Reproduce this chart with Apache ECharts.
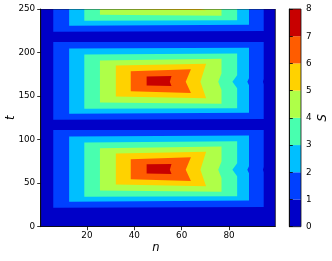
<!DOCTYPE html>
<html><head><meta charset="utf-8">
<script src="https://cdn.jsdelivr.net/npm/echarts@6/dist/echarts.min.js"></script>
<style>html,body{margin:0;padding:0;background:#fff}#c{width:332px;height:261px}</style>
</head><body><div id="c"></div>
<script>
// band colours (jet colormap), bands 0-1 ... 7-8
const bandColors = ['#0000c8','#0040ff','#00bfff','#48ffaf','#afff48','#ffd200','#ff5c00','#c80000'];
const levelBounds = [0,1,2,3,4,5,6,7,8];
const xTicks = [20,40,60,80];
const yTicks = [0,50,100,150,200,250];
const nRange = [0.5, 99.5];
const tRange = [0, 250];
// outlines of the filled contour regions S > 1 ... S > 7 for the first hump
const bandLeftN   = [5.8, 12.5, 18.9, 25.5, 32.2, 38.5, 45.2];
const bandRightN  = [94.6, 88.4, 83.4, 76.8, 70.3, 63.9, 55.7];
const bandNotchN  = [94.3, 87.7, 81.4, 75.4, 67.9, 61.7, 55.0];
const notchSpanT  = [3, 4, 7.5, 9.5, 99, 99, 99];
const bandBottomL = [21.8, 28.7, 34.5, 41.5, 48.5, 54.5, 61.2];
const bandBottomR = [22.6, 30.0, 35.0, 40.2, 46.5, 52.5, 60.5];
const bandTopL    = [111, 103.5, 96.8, 90, 84, 77.6, 71.6];
const bandTopR    = [111, 104.6, 98, 92, 86, 79.7, 72];
const notchT = 65.5;
// the pattern repeats along t
const humpShiftT = [0, 101, 202];

function clampT(p){ return [p[0], Math.min(tRange[1], Math.max(tRange[0], p[1]))]; }
function bandPolygon(k, s){
  const r = bandRightN[k], b = bandBottomR[k], tp = bandTopR[k];
  const pts = [[bandLeftN[k], bandBottomL[k]+s], [r, b+s]];
  const lo = Math.max(b, notchT - notchSpanT[k]);
  const hi = Math.min(tp, notchT + notchSpanT[k]);
  if (lo > b) pts.push([r, lo+s]);
  pts.push([bandNotchN[k], notchT+s]);
  if (hi < tp) pts.push([r, hi+s]);
  pts.push([r, tp+s]);
  pts.push([bandLeftN[k], bandTopL[k]+s]);
  return pts.map(clampT);
}
const shapes = [{level:0, pts:[[nRange[0],tRange[0]],[nRange[1],tRange[0]],[nRange[1],tRange[1]],[nRange[0],tRange[1]]]}];
for (let k=0;k<7;k++) for (const s of humpShiftT) shapes.push({level:k+1, pts:bandPolygon(k,s)});

const font = 'DejaVu Sans';
const chart = echarts.init(document.getElementById('c'), null, {renderer:'canvas'});
const axisCommon = {
  axisLine:{show:true, lineStyle:{color:'#000', width:0.8}},
  axisTick:{show:true, inside:false, length:3.5, lineStyle:{color:'#000', width:0.8}},
  splitLine:{show:false},
  nameMoveOverlap:false,
  z:10
};
chart.setOption({
  animation:false,
  backgroundColor:'#fff',
  grid:[{left:40.7, top:9, width:234.6, height:217.7, outerBoundsMode:'none', containLabel:false},
        {left:289.3, top:9, width:11.7, height:217.7, outerBoundsMode:'none', containLabel:false}],
  xAxis:[
    Object.assign({}, axisCommon, {type:'value', gridIndex:0, min:nRange[0], max:nRange[1],
      axisTick:Object.assign({}, axisCommon.axisTick, {customValues:xTicks}),
      axisLabel:{customValues:xTicks, fontSize:8.8, fontFamily:font, color:'#000', margin:5},
      name:'n', nameLocation:'middle', nameGap:15,
      nameTextStyle:{fontStyle:'italic', fontSize:11.5, fontFamily:font, color:'#000', padding:[0,4,0,0]}}),
    {type:'value', gridIndex:1, min:0, max:1, show:false}
  ],
  yAxis:[
    Object.assign({}, axisCommon, {type:'value', gridIndex:0, min:tRange[0], max:tRange[1], interval:50,
      axisLabel:{fontSize:8.8, fontFamily:font, color:'#000', margin:5.5},
      name:'t', nameLocation:'middle', nameGap:24,
      nameTextStyle:{fontStyle:'italic', fontSize:11.5, fontFamily:font, color:'#000'}}),
    Object.assign({}, axisCommon, {type:'value', gridIndex:1, position:'right', min:levelBounds[0], max:levelBounds[8], interval:1,
      axisLabel:{fontSize:8.8, fontFamily:font, color:'#000', margin:5},
      name:'S', nameLocation:'middle', nameGap:16,
      nameTextStyle:{fontStyle:'italic', fontSize:11.5, fontFamily:font, color:'#000'}})
  ],
  series:[
    {type:'custom', xAxisIndex:0, yAxisIndex:0, clip:true, silent:true,
     data: shapes.map((s,i)=>[50,100,i]).concat([[50,100,-1]]),
     renderItem:function(params, api){
       const i = params.dataIndex;
       if (i >= shapes.length) {
         const p0 = api.coord([nRange[0], tRange[1]]), p1 = api.coord([nRange[1], tRange[0]]);
         return {type:'rect', z2:100, shape:{x:p0[0], y:p0[1], width:p1[0]-p0[0], height:p1[1]-p0[1]},
                 style:{fill:'none', stroke:'#111', lineWidth:0.8}};
       }
       const sh = shapes[i];
       return {type:'polygon', z2:sh.level, shape:{points:sh.pts.map(p=>api.coord(p))},
               style:{fill:bandColors[sh.level], stroke:null}};
     }},
    {type:'custom', xAxisIndex:1, yAxisIndex:1, silent:true,
     data: bandColors.map((c,k)=>[0.5, k+0.5, k]).concat([[0.5,4,-1]]),
     renderItem:function(params, api){
       const k = params.dataIndex;
       if (k >= bandColors.length) {
         const p0 = api.coord([0, levelBounds[8]]), p1 = api.coord([1, levelBounds[0]]);
         return {type:'rect', z2:100, shape:{x:p0[0], y:p0[1], width:p1[0]-p0[0], height:p1[1]-p0[1]},
                 style:{fill:'none', stroke:'#111', lineWidth:0.8}};
       }
       const p0 = api.coord([0, levelBounds[k+1]]), p1 = api.coord([1, levelBounds[k]]);
       return {type:'rect', shape:{x:p0[0], y:p0[1], width:p1[0]-p0[0], height:p1[1]-p0[1]},
               style:{fill:bandColors[k], stroke:null}};
     }}
  ]
});
</script></body></html>
